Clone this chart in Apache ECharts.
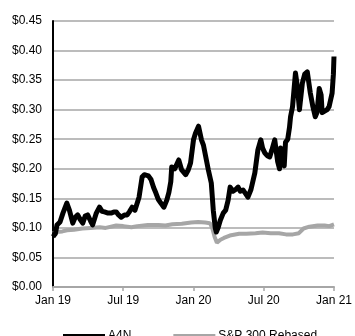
<!DOCTYPE html>
<html>
<head>
<meta charset="utf-8">
<script src="https://cdn.jsdelivr.net/npm/echarts@6/dist/echarts.min.js"></script>
<style>
html,body{margin:0;padding:0;background:#fff;}
#chart{width:355px;height:336px;}
</style>
</head>
<body>
<div id="chart"></div>
<script>
// x in months since Jan 2019
var xTickLabels = ['Jan 19', 'Jul 19', 'Jan 20', 'Jul 20', 'Jan 21'];
var yTickLabels = ['$0.00', '$0.05', '$0.10', '$0.15', '$0.20', '$0.25', '$0.30', '$0.35', '$0.40', '$0.45'];

var a4nMonths = [0, 0.2, 0.34, 0.6, 0.85, 1.18, 1.4, 1.69, 1.9, 2.11, 2.3, 2.54, 2.75, 2.96, 3.2, 3.38, 3.7, 3.97, 4.2, 4.4, 4.7, 4.99, 5.2, 5.41, 5.6, 5.83, 6.1, 6.34, 6.55, 6.76, 7.0, 7.1, 7.35, 7.61, 7.8, 7.95, 8.15, 8.37, 8.6, 8.79, 9.0, 9.21, 9.47, 9.72, 9.9, 10.06, 10.14, 10.4, 10.74, 10.99, 11.15, 11.33, 11.55, 11.75, 12.0, 12.17, 12.43, 12.68, 12.85, 13.02, 13.27, 13.52, 13.69, 13.86, 13.95, 14.1, 14.29, 14.54, 14.75, 14.96, 15.13, 15.38, 15.6, 15.81, 16.0, 16.23, 16.45, 16.65, 16.91, 17.24, 17.5, 17.75, 17.9, 18.09, 18.3, 18.51, 18.7, 18.94, 19.1, 19.19, 19.35, 19.44, 19.61, 19.75, 19.86, 20.05, 20.2, 20.29, 20.46, 20.71, 20.88, 21.05, 21.3, 21.5, 21.72, 21.98, 22.2, 22.4, 22.55, 22.74, 22.9, 22.99, 23.16, 23.42, 23.58, 23.84, 23.95, 24.0];
var a4nValues = [0.085, 0.09, 0.105, 0.11, 0.125, 0.142, 0.13, 0.108, 0.118, 0.122, 0.115, 0.108, 0.12, 0.122, 0.112, 0.105, 0.125, 0.135, 0.128, 0.127, 0.125, 0.125, 0.127, 0.127, 0.122, 0.118, 0.122, 0.122, 0.128, 0.135, 0.13, 0.13, 0.152, 0.186, 0.19, 0.193, 0.188, 0.182, 0.168, 0.159, 0.148, 0.142, 0.135, 0.147, 0.16, 0.178, 0.203, 0.2, 0.215, 0.198, 0.2, 0.19, 0.198, 0.21, 0.249, 0.26, 0.272, 0.249, 0.24, 0.237, 0.198, 0.176, 0.13, 0.1, 0.093, 0.1, 0.113, 0.125, 0.13, 0.147, 0.169, 0.162, 0.165, 0.169, 0.162, 0.164, 0.158, 0.152, 0.165, 0.193, 0.232, 0.249, 0.235, 0.227, 0.222, 0.22, 0.232, 0.249, 0.225, 0.212, 0.2, 0.235, 0.215, 0.205, 0.245, 0.25, 0.27, 0.288, 0.305, 0.362, 0.338, 0.3, 0.345, 0.36, 0.364, 0.328, 0.305, 0.288, 0.295, 0.336, 0.325, 0.295, 0.292, 0.3, 0.305, 0.328, 0.36, 0.39];

var spMonths = [0, 0.3, 0.8, 1.2, 1.8, 2.5, 3.2, 4.0, 4.5, 5.4, 6.0, 6.7, 7.2, 8.1, 9.0, 9.6, 10.2, 11.0, 11.8, 12.4, 13.0, 13.4, 13.6, 13.8, 14.0, 14.3, 14.6, 15.1, 15.9, 16.5, 17.3, 17.9, 18.6, 19.3, 19.9, 20.5, 21.0, 21.4, 21.9, 22.6, 23.2, 23.6, 24.0];
var spValues = [0.091, 0.093, 0.094, 0.096, 0.097, 0.099, 0.1, 0.101, 0.1, 0.104, 0.103, 0.101, 0.103, 0.105, 0.105, 0.104, 0.106, 0.107, 0.109, 0.11, 0.109, 0.108, 0.1, 0.085, 0.075, 0.08, 0.083, 0.087, 0.09, 0.09, 0.091, 0.092, 0.091, 0.091, 0.089, 0.089, 0.091, 0.099, 0.102, 0.104, 0.104, 0.103, 0.106];

function pairs(xs, ys) {
  return xs.map(function (x, i) { return [x, ys[i]]; });
}

var chart = echarts.init(document.getElementById('chart'), null, { renderer: 'canvas' });
var font = 'Liberation Sans, Arial, sans-serif';
chart.setOption({
  animation: false,
  backgroundColor: '#fff',
  grid: { left: 53, right: 18, top: 21, bottom: 49, containLabel: false },
  xAxis: {
    type: 'value',
    min: 0, max: 24, interval: 6,
    axisLine: { show: true, lineStyle: { color: '#a6a6a6', width: 2 } },
    axisTick: { show: true, length: 4, lineStyle: { color: '#a6a6a6', width: 1.5 } },
    splitLine: { show: false },
    axisLabel: {
      color: '#000', fontSize: 12, fontFamily: font, margin: 8,
      formatter: function (v) { return xTickLabels[Math.round(v / 6)]; }
    }
  },
  yAxis: {
    type: 'value',
    min: 0, max: 0.45, interval: 0.05,
    axisLine: { show: true, lineStyle: { color: '#000', width: 2 } },
    axisTick: { show: false },
    splitLine: { show: true, lineStyle: { color: '#a6a6a6', width: 1.5 } },
    axisLabel: {
      color: '#000', fontSize: 12, fontFamily: font, margin: 11,
      formatter: function (v) { return yTickLabels[Math.round(v / 0.05)]; }
    }
  },
  legend: {
    left: 58, top: 325,
    itemWidth: 42, itemHeight: 4, itemGap: 42,
    icon: 'rect',
    textStyle: { color: '#000', fontSize: 12, fontFamily: font, padding: [0, 0, 0, -2] },
    data: ['A4N', 'S&P 300 Rebased']
  },
  series: [
    {
      name: 'S&P 300 Rebased', type: 'line', data: pairs(spMonths, spValues),
      showSymbol: false, symbol: 'none', color: '#a6a6a6',
      lineStyle: { color: '#a6a6a6', width: 4 }, z: 2
    },
    {
      name: 'A4N', type: 'line', data: pairs(a4nMonths, a4nValues),
      showSymbol: false, symbol: 'none', color: '#000',
      lineStyle: { color: '#000', width: 5, join: 'round' }, z: 3
    }
  ]
});
</script>
</body>
</html>
